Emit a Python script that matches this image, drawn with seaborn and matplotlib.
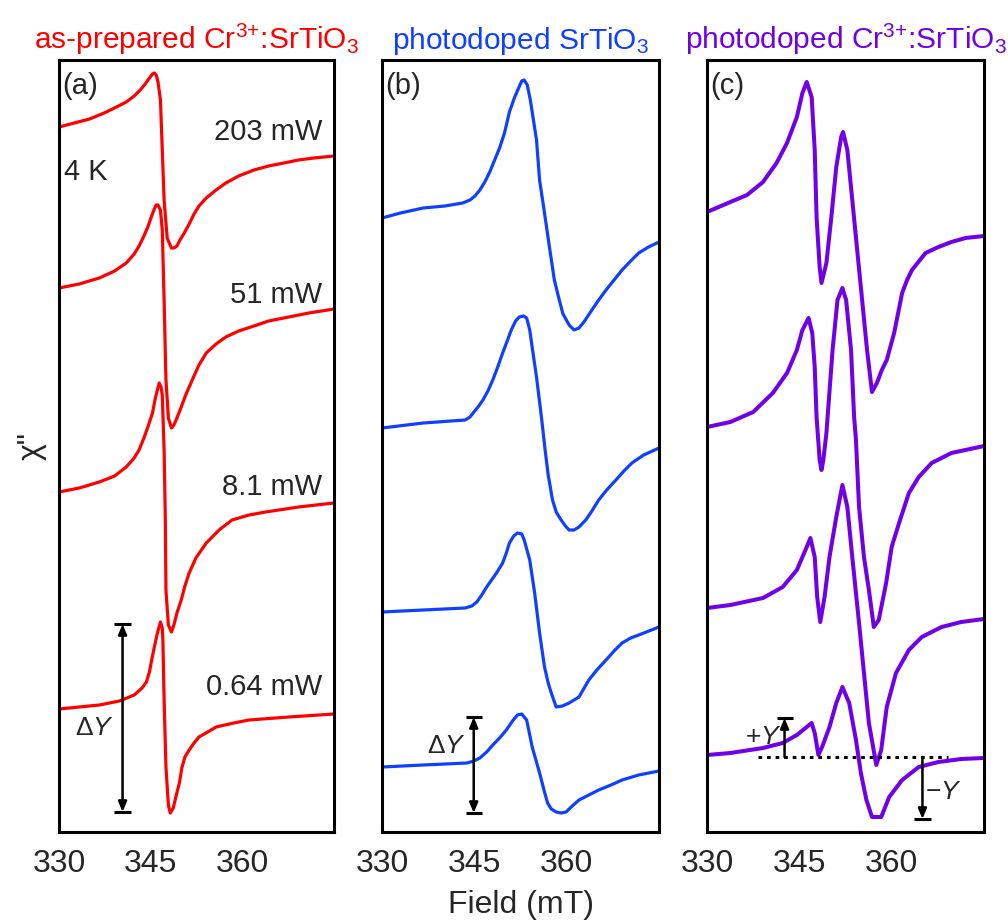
import numpy as np
import pandas as pd
import matplotlib
matplotlib.use("Agg")
import matplotlib.pyplot as plt
import seaborn as sns

sns.set_style("white")
plt.rcParams['font.family'] = ['Liberation Sans', 'DejaVu Sans']
plt.rcParams['mathtext.fontset'] = 'custom'
plt.rcParams['mathtext.rm'] = 'Liberation Sans'
plt.rcParams['mathtext.it'] = 'Liberation Sans:italic'
plt.rcParams['mathtext.bf'] = 'Liberation Sans:bold'

# ---------------- data (field in mT, signal in arbitrary units incl. offsets) ----------------
powers = ["203 mW", "51 mW", "8.1 mW", "0.64 mW"]
power_label_y = [700, 537, 345, 145]

a1_field = [330.0, 332.5, 335.0, 337.4, 339.4, 341.0, 342.3, 343.3, 344.1, 344.8, 345.3, 345.6, 345.9, 346.2, 346.6, 346.9, 347.2, 347.7, 348.4, 348.8, 349.3, 349.8, 350.5, 351.3, 352.1, 352.9, 354.1, 355.7, 357.3, 359.4, 361.9, 364.3, 366.8, 369.2, 371.7, 375.0]
a1_sig = [705, 709, 713, 719, 725, 730, 736, 742, 748, 754, 758, 759, 757, 750, 732, 682, 632, 594, 584, 584, 586, 592, 599, 608, 618, 626, 634, 642, 649, 656, 662, 666, 669, 672, 674, 676]
a2_field = [330.0, 333.3, 336.6, 339.1, 341.0, 342.3, 343.1, 343.9, 344.6, 345.1, 345.6, 345.9, 346.2, 346.6, 346.9, 347.2, 347.5, 347.9, 348.4, 348.8, 349.3, 350.0, 350.8, 351.8, 352.9, 354.1, 355.7, 357.3, 359.4, 361.9, 364.3, 367.6, 370.9, 375.0]
a2_sig = [544, 548, 554, 561, 569, 578, 586, 596, 606, 615, 623, 627, 627, 622, 602, 532, 452, 414, 404, 407, 414, 425, 438, 452, 467, 479, 488, 495, 501, 506, 511, 515, 519, 523]
a3_field = [330.0, 333.3, 336.6, 339.1, 341.0, 342.3, 343.1, 343.9, 344.6, 345.3, 345.7, 346.1, 346.4, 346.7, 346.9, 347.2, 347.4, 347.5, 347.9, 348.4, 348.8, 349.3, 350.0, 350.6, 351.3, 352.4, 354.1, 356.2, 358.3, 361.1, 363.8, 369.2, 375.0]
a3_sig = [340, 344, 350, 356, 365, 374, 382, 394, 406, 419, 432, 442, 449, 445, 437, 382, 312, 242, 207, 200, 207, 219, 232, 246, 259, 274, 289, 302, 312, 317, 320, 325, 329]
a4_field = [330.0, 336.6, 339.9, 342.3, 343.6, 344.3, 344.8, 345.1, 345.6, 346.1, 346.6, 346.9, 347.0, 347.2, 347.5, 347.9, 348.2, 348.7, 349.2, 349.7, 350.1, 350.6, 351.3, 352.1, 352.9, 354.6, 355.7, 358.6, 361.1, 367.6, 375.0]
a4_sig = [123, 127, 131, 137, 144, 150, 160, 170, 185, 199, 210, 204, 192, 132, 65, 27, 19, 24, 37, 49, 64, 75, 82, 89, 95, 101, 105, 109, 112, 115, 118]

b1_field = [330.0, 333.0, 336.7, 340.2, 343.1, 344.3, 345.1, 345.9, 346.7, 347.5, 348.3, 349.1, 349.9, 350.7, 351.5, 352.2, 352.7, 353.1, 353.6, 354.1, 354.6, 355.1, 355.6, 356.4, 357.2, 358.0, 358.8, 359.4, 360.4, 361.2, 362.0, 362.8, 364.1, 365.2, 366.4, 367.7, 369.0, 370.4, 371.7, 373.3, 375.0]
b1_sig = [614, 619, 624, 626, 629, 632, 636, 642, 650, 660, 672, 684, 699, 720, 734, 744, 751, 752, 747, 732, 712, 692, 652, 619, 585, 552, 532, 518, 507, 502, 504, 510, 522, 532, 542, 552, 562, 571, 579, 585, 590]
b2_field = [330.0, 336.7, 343.5, 344.3, 344.8, 345.6, 346.4, 347.2, 348.0, 348.8, 349.6, 350.4, 351.0, 351.7, 352.3, 353.0, 353.5, 354.0, 354.3, 355.1, 355.9, 356.5, 357.0, 357.7, 358.3, 359.1, 359.8, 360.4, 361.2, 362.0, 363.1, 364.1, 365.2, 366.5, 368.0, 369.3, 370.6, 372.5, 375.0]
b2_sig = [404, 409, 412, 415, 419, 425, 432, 441, 452, 465, 479, 492, 502, 511, 515, 516, 514, 502, 489, 455, 415, 382, 357, 332, 320, 312, 306, 302, 302, 305, 312, 321, 332, 342, 352, 361, 369, 377, 384]
b3_field = [330.0, 336.7, 343.5, 344.6, 345.4, 346.2, 347.0, 347.8, 348.6, 349.6, 350.2, 350.7, 351.4, 352.0, 352.7, 353.1, 354.0, 354.8, 355.6, 356.4, 357.0, 357.5, 358.3, 359.3, 360.4, 362.0, 363.6, 364.9, 366.4, 367.7, 369.0, 370.4, 371.7, 375.0]
b3_sig = [220, 222, 224, 226, 230, 237, 245, 252, 259, 269, 279, 289, 296, 299, 298, 292, 272, 239, 199, 165, 149, 139, 125, 126, 129, 135, 152, 162, 172, 181, 189, 194, 197, 205]
b4_field = [330.0, 336.7, 343.8, 344.9, 345.9, 347.0, 348.0, 349.1, 350.2, 351.2, 352.0, 352.7, 353.5, 354.4, 355.6, 356.4, 356.9, 357.5, 358.3, 359.1, 359.9, 360.9, 362.0, 363.6, 365.2, 367.2, 369.0, 371.7, 375.0]
b4_sig = [65, 67, 69, 71, 74, 80, 87, 94, 102, 111, 117, 118, 112, 85, 59, 40, 29, 23, 20, 19, 20, 26, 32, 37, 42, 47, 52, 57, 61]

c1_field = [330.0, 333.8, 336.5, 339.1, 341.3, 343.0, 344.6, 345.5, 346.2, 347.0, 347.5, 347.8, 348.3, 348.6, 349.4, 350.2, 351.0, 351.8, 352.1, 352.8, 353.6, 354.4, 355.2, 356.0, 356.8, 357.6, 358.4, 359.2, 360.4, 361.7, 362.5, 363.3, 365.5, 367.6, 369.7, 372.0, 375.0]
c1_sig = [620, 630, 637, 650, 669, 689, 715, 739, 750, 735, 682, 615, 565, 549, 569, 615, 665, 695, 700, 682, 632, 582, 532, 482, 440, 449, 462, 472, 499, 539, 552, 562, 579, 585, 590, 594, 596]
c2_field = [330.0, 333.8, 337.5, 340.7, 343.0, 344.6, 345.5, 346.5, 347.1, 347.5, 347.8, 348.3, 348.6, 348.9, 349.4, 350.4, 351.2, 352.0, 352.6, 353.4, 353.9, 354.2, 354.7, 355.5, 356.3, 357.1, 357.9, 359.1, 360.0, 361.2, 362.8, 364.4, 366.5, 369.7, 375.0]
c2_sig = [405, 410, 420, 439, 459, 482, 502, 514, 499, 465, 415, 372, 362, 372, 399, 482, 532, 544, 532, 482, 415, 392, 325, 275, 242, 205, 212, 249, 285, 309, 339, 355, 369, 379, 386]
c3_field = [330.0, 333.8, 339.1, 342.3, 344.6, 346.2, 346.8, 347.5, 347.9, 348.4, 349.1, 349.9, 351.0, 352.0, 352.8, 353.6, 354.7, 355.5, 356.3, 357.5, 358.3, 359.2, 360.7, 362.8, 364.9, 368.1, 371.3, 375.0]
c3_sig = [224, 227, 234, 245, 262, 285, 294, 275, 235, 210, 235, 275, 315, 347, 325, 275, 209, 159, 109, 67, 82, 125, 159, 182, 195, 205, 210, 213]
c4_field = [330.0, 333.8, 339.1, 342.3, 344.6, 346.2, 347.0, 347.5, 348.1, 348.7, 349.9, 351.0, 352.0, 353.1, 354.2, 355.0, 355.9, 356.8, 358.3, 359.6, 361.7, 364.4, 367.6, 371.3, 375.0]
c4_sig = [77, 79, 84, 89, 97, 105, 109, 99, 77, 85, 105, 129, 145, 129, 92, 59, 32, 15, 15, 35, 52, 65, 70, 73, 74]

titles = [r"as-prepared Cr$^{3{+}}$:SrTiO$_3$", r"photodoped SrTiO$_3$", r"photodoped Cr$^{3{+}}$:SrTiO$_3$"]
panel_tags = ["(a)", "(b)", "(c)"]
colors = ["#ff0000", "#1040ff", "#7000e8"]
major_ticks = [330, 345, 360]
minor_ticks = [335, 340, 350, 355, 365, 370]

# annotation values
dY_a = dict(x=340.4, y0=20, y1=208, cap=1.45, tx=339.0, ty=104)
dY_b = dict(x=344.9, y0=19, y1=115, cap=1.3, tx=343.6, ty=86)
baseline_c = dict(y=75, x0=338.3, x1=369.2)
plusY = dict(x=342.6, y0=75, y1=114, cap=1.3)
minusY = dict(x=365.0, y0=75, y1=13, cap=1.4)

panels = [
    [(a1_field, a1_sig), (a2_field, a2_sig), (a3_field, a3_sig), (a4_field, a4_sig)],
    [(b1_field, b1_sig), (b2_field, b2_sig), (b3_field, b3_sig), (b4_field, b4_sig)],
    [(c1_field, c1_sig), (c2_field, c2_sig), (c3_field, c3_sig), (c4_field, c4_sig)],
]

fig = plt.figure(figsize=(10.08, 9.21), dpi=100)
lefts = [59 / 1008, 382 / 1008, 707 / 1008]
widths = [275 / 1008, 277 / 1008, 277 / 1008]
bottom, height = 89 / 921, 772 / 921
axes = [fig.add_axes([l, bottom, w, height]) for l, w in zip(lefts, widths)]

lw_list = [2.3, 2.3, 2.9]
for i, ax in enumerate(axes):
    rows = []
    for k, (f, s) in enumerate(panels[i]):
        rows.append(pd.DataFrame({"field": f, "signal": s, "trace": k}))
    df = pd.concat(rows, ignore_index=True)
    sns.lineplot(data=df, x="field", y="signal", units="trace", estimator=None,
                 sort=False, color=colors[i], lw=lw_list[i], ax=ax, legend=False)
    ax.set_xlim(330, 375)
    ax.set_ylim(0, 772)
    ax.set_yticks([])
    ax.set_xticks(major_ticks)
    ax.set_xticks(minor_ticks, minor=True)
    ax.tick_params(axis="x", which="major", direction="in", length=9.5, width=2.0,
                   labelsize=23, pad=12, top=False)
    ax.tick_params(axis="x", which="minor", direction="in", length=5, width=2.0, top=False)
    ax.tick_params(axis="y", left=False, right=False)
    for sp in ax.spines.values():
        sp.set_visible(True)
        sp.set_linewidth(2.2)
        sp.set_color("black")
    ax.set_xlabel("")
    ax.set_ylabel("")
    ax.set_title(titles[i], color=colors[i], fontsize=21.5, pad=8)
    ax.text(0.012, 0.985, panel_tags[i], transform=ax.transAxes, fontsize=21,
            ha="left", va="top")

axes[1].set_xlabel("Field (mT)", fontsize=23, labelpad=8)
axes[0].set_ylabel('χ"', fontsize=23, labelpad=9)

ax = axes[0]
ax.text(330.9, 660, "4 K", fontsize=21, ha="left", va="center")
for lab, yy in zip(powers, power_label_y):
    ax.text(373.1, yy, lab, fontsize=21, ha="right", va="center")

arrow_kw = dict(arrowstyle="<|-|>,head_length=0.6,head_width=0.25", color="black", lw=1.8,
                shrinkA=0, shrinkB=0)
single_kw = dict(arrowstyle="-|>,head_length=0.6,head_width=0.25", color="black", lw=1.8,
                 shrinkA=0, shrinkB=0)

for ax, d in [(axes[0], dY_a), (axes[1], dY_b)]:
    ax.annotate("", xy=(d["x"], d["y1"]), xytext=(d["x"], d["y0"]), arrowprops=arrow_kw)
    ax.hlines([d["y0"], d["y1"]], d["x"] - d["cap"], d["x"] + d["cap"], color="black", lw=2.2)
    ax.text(d["tx"], d["ty"], r"$\Delta Y$", fontsize=19, ha="right", va="center")

ax = axes[2]
ax.hlines(baseline_c["y"], baseline_c["x0"], baseline_c["x1"], color="black", lw=2.2,
          linestyles=(0, (1.2, 1.6)))
ax.annotate("", xy=(plusY["x"], plusY["y1"]), xytext=(plusY["x"], plusY["y0"]), arrowprops=single_kw)
ax.hlines(plusY["y1"], plusY["x"] - plusY["cap"], plusY["x"] + plusY["cap"], color="black", lw=2.2)
ax.text(plusY["x"] - 0.5, 95, r"$+Y$", fontsize=19, ha="right", va="center")
ax.annotate("", xy=(minusY["x"], minusY["y1"]), xytext=(minusY["x"], minusY["y0"]), arrowprops=single_kw)
ax.hlines(minusY["y1"], minusY["x"] - minusY["cap"], minusY["x"] + minusY["cap"], color="black", lw=2.2)
ax.text(minusY["x"] + 0.4, 40, r"$-Y$", fontsize=19, ha="left", va="center")

fig.savefig("out.png", dpi=100)
